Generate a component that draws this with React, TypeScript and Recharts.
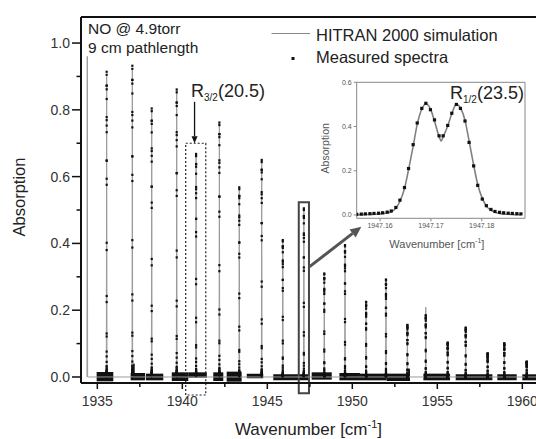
import React from 'react';
import { ComposedChart, Line, Scatter, XAxis, YAxis, ReferenceArea, ReferenceLine } from 'recharts';

const FONT = '"Liberation Sans", Arial, sans-serif';

// ---- main spectrum data ----
const peakWavenumbers = [1935.55, 1937.06, 1938.2, 1939.67, 1940.81, 1942.18, 1943.35, 1944.67, 1945.91, 1947.15, 1948.35, 1949.57, 1950.81, 1951.98, 1953.24, 1954.32, 1955.61, 1956.67, 1957.96, 1958.94, 1960.26];
const measuredPeakHeights = [0.914, 0.932, 0.804, 0.861, 0.668, 0.762, 0.568, 0.65, 0.41, 0.505, 0.31, 0.395, 0.225, 0.292, 0.156, 0.185, 0.103, 0.148, 0.071, 0.101, 0.046];
const simPeakWavenumbers = [1934.41, 1935.55, 1937.06, 1938.2, 1939.67, 1940.81, 1942.18, 1943.35, 1944.67, 1945.91, 1947.15, 1948.35, 1949.57, 1950.81, 1951.98, 1953.24, 1954.32, 1955.61, 1956.67, 1957.96, 1958.94, 1960.26];
const simPeakHeights = [0.96, 0.9, 0.92, 0.8, 0.86, 0.66, 0.76, 0.56, 0.64, 0.41, 0.5, 0.31, 0.39, 0.225, 0.29, 0.156, 0.209, 0.103, 0.148, 0.071, 0.101, 0.046];

// baseline noise segments of the measured spectrum
const noiseStart = [1934.96, 1936.96, 1937.0, 1937.86, 1939.38, 1940.35, 1941.82, 1942.61, 1943.79, 1945.35, 1947.61, 1949.24, 1950.45, 1952.02, 1953.2, 1954.18, 1956.08, 1958.53, 1960.0];
const noiseEnd = [1935.94, 1937.81, 1937.2, 1938.88, 1940.35, 1941.44, 1942.41, 1943.49, 1944.76, 1947.42, 1948.79, 1950.45, 1952.02, 1953.39, 1953.39, 1955.75, 1958.24, 1959.67, 1961.0];
const noiseLow = [-0.013, -0.01, 0, -0.01, -0.012, -0.002, -0.012, -0.014, -0.004, -0.01, -0.008, -0.01, -0.01, -0.012, -0.012, -0.01, -0.01, -0.01, -0.01];
const noiseHigh = [0.015, 0.012, 0.04, 0.01, 0.014, 0.014, 0.014, 0.016, 0.01, 0.008, 0.014, 0.012, 0.01, 0.01, 0.025, 0.01, 0.008, 0.008, 0.008];

const xTicks = [1935, 1937.5, 1940, 1942.5, 1945, 1947.5, 1950, 1952.5, 1955, 1957.5, 1960];
const yTicks = [0, 0.1, 0.2, 0.3, 0.4, 0.5, 0.6, 0.7, 0.8, 0.9, 1.0];
const X_DOMAIN: [number, number] = [1934.04, 1961.04];
const Y_DOMAIN: [number, number] = [-0.018, 1.078];

// ---- inset data: R1/2(23.5) line ----
const insetDotX = [1947.1554, 1947.1563, 1947.1571, 1947.158, 1947.1588, 1947.1597, 1947.1605, 1947.1614, 1947.1622, 1947.1631, 1947.1639, 1947.1648, 1947.1656, 1947.1665, 1947.1673, 1947.1682, 1947.169, 1947.1699, 1947.1707, 1947.1716, 1947.1724, 1947.1733, 1947.1741, 1947.175, 1947.1758, 1947.1767, 1947.1775, 1947.1784, 1947.1792, 1947.1801, 1947.1809, 1947.1818, 1947.1826, 1947.1835, 1947.1843, 1947.1852, 1947.186, 1947.1869, 1947.1877];
const insetDotY = [0.003, 0.004, 0.005, 0.006, 0.007, 0.008, 0.01, 0.013, 0.018, 0.034, 0.067, 0.124, 0.21, 0.318, 0.416, 0.482, 0.505, 0.476, 0.43, 0.358, 0.358, 0.405, 0.46, 0.5, 0.482, 0.425, 0.328, 0.222, 0.134, 0.072, 0.042, 0.025, 0.016, 0.012, 0.01, 0.008, 0.007, 0.006, 0.005];
const insetSimX = [1947.1554, 1947.1563, 1947.1571, 1947.158, 1947.1588, 1947.1597, 1947.1605, 1947.1614, 1947.1622, 1947.1631, 1947.1639, 1947.1648, 1947.1656, 1947.1665, 1947.1673, 1947.1682, 1947.169, 1947.1699, 1947.1707, 1947.1716, 1947.172, 1947.1724, 1947.1733, 1947.1741, 1947.175, 1947.1758, 1947.1767, 1947.1775, 1947.1784, 1947.1792, 1947.1801, 1947.1809, 1947.1818, 1947.1826, 1947.1835, 1947.1843, 1947.1852, 1947.186, 1947.1869, 1947.1877];
const insetSimY = [0.001, 0.001, 0.002, 0.002, 0.003, 0.004, 0.006, 0.009, 0.015, 0.03, 0.062, 0.12, 0.205, 0.31, 0.41, 0.478, 0.503, 0.48, 0.425, 0.355, 0.334, 0.353, 0.402, 0.458, 0.5, 0.484, 0.428, 0.335, 0.226, 0.138, 0.075, 0.04, 0.022, 0.012, 0.007, 0.004, 0.003, 0.002, 0.001, 0.001];
const insetXTicks = [1947.16, 1947.17, 1947.18];
const insetYTicks = [0, 0.2, 0.4, 0.6];
const INSET_X_DOMAIN: [number, number] = [1947.1554, 1947.1885];
const INSET_Y_DOMAIN: [number, number] = [-0.015, 0.6];

// ---- tables built from the arrays ----
const simData: { x: number; y: number }[] = [];
simPeakWavenumbers.forEach((w, i) => {
  simData.push({ x: w - 0.02, y: 0 });
  simData.push({ x: w, y: simPeakHeights[i] });
  simData.push({ x: w + 0.02, y: 0 });
});
simData.push({ x: X_DOMAIN[1], y: 0 });

const profileMax = Math.max(...insetDotY);
const measuredDots = peakWavenumbers.flatMap((w, i) =>
  insetDotY.map((v) => ({ x: w, y: (v / profileMax) * measuredPeakHeights[i] }))
);
const insetDots = insetDotX.map((x, i) => ({ x, y: insetDotY[i] }));
const insetSim = insetSimX.map((x, i) => ({ x, y: insetSimY[i] }));

// ---- renderers ----
const DotShape = (p: any) => <rect x={p.cx - 1.1} y={p.cy - 1.1} width={2.2} height={2.2} fill="#111" />;
const InsetDotShape = (p: any) => <rect x={p.cx - 1.6} y={p.cy - 1.6} width={3.2} height={3.2} fill="#111" />;

const XTick = (p: any) => {
  const v = p.payload.value;
  const major = Math.abs(v % 5) < 1e-6;
  const axisY = p.y - 6;
  return (
    <g>
      <line x1={p.x} x2={p.x} y1={axisY} y2={axisY + (major ? 6 : 4)} stroke="#111" strokeWidth={1.5} />
      {major && (
        <text x={p.x} y={axisY + 23} textAnchor="middle" fontSize={14} fill="#333" fontFamily={FONT}>
          {v}
        </text>
      )}
    </g>
  );
};

const YTick = (p: any) => {
  const v = p.payload.value;
  const major = Math.round(v * 10) % 2 === 0;
  const axisX = p.x + 12;
  return (
    <g>
      <line x1={axisX} x2={axisX - (major ? 9 : 4.5)} y1={p.y} y2={p.y} stroke="#111" strokeWidth={1.5} />
      {major && (
        <text x={p.x + 1} y={p.y + 5} textAnchor="end" fontSize={14} fill="#333" fontFamily={FONT}>
          {v.toFixed(1)}
        </text>
      )}
    </g>
  );
};

const makeArrow = (color: string, width: number, headLen: number, headHalf: number) => (p: any) => {
  const x1 = Number(p.x1), y1 = Number(p.y1), x2 = Number(p.x2), y2 = Number(p.y2);
  const dx = x2 - x1, dy = y2 - y1;
  const len = Math.sqrt(dx * dx + dy * dy) || 1;
  const ux = dx / len, uy = dy / len;
  const bx = x2 - ux * headLen, by = y2 - uy * headLen;
  const pts = `${x2},${y2} ${bx - uy * headHalf},${by + ux * headHalf} ${bx + uy * headHalf},${by - ux * headHalf}`;
  return (
    <g>
      <line x1={x1} y1={y1} x2={bx} y2={by} stroke={color} strokeWidth={width} />
      <polygon points={pts} fill={color} />
    </g>
  );
};

const MainYLabel = (props: any) => {
  const vb = props.viewBox || { x: 0, y: 17, width: 81, height: 366 };
  const cx = vb.x + 19;
  const cy = vb.y + vb.height / 2 - 3;
  return (
    <text x={cx} y={cy} transform={`rotate(-90 ${cx} ${cy})`} textAnchor="middle" dominantBaseline="central" fontSize={16.5} fill="#222" fontFamily={FONT}>
      Absorption
    </text>
  );
};

const MainXLabel = (props: any) => {
  const vb = props.viewBox || { x: 81, y: 383, width: 459, height: 56 };
  const cx = vb.x + vb.width / 2 - 2;
  return (
    <text x={cx} y={vb.y + 52} textAnchor="middle" fontSize={17} fill="#222" fontFamily={FONT}>
      Wavenumber [cm<tspan dy={-7} fontSize={11}>-1</tspan>
      <tspan dy={7}>]</tspan>
    </text>
  );
};

const InsetYLabel = (props: any) => {
  const vb = props.viewBox || { x: 300, y: 82, width: 57, height: 136 };
  const cx = vb.x + 25;
  const cy = vb.y + vb.height / 2 - 2;
  return (
    <text x={cx} y={cy} transform={`rotate(-90 ${cx} ${cy})`} textAnchor="middle" dominantBaseline="central" fontSize={10.5} fill="#555" fontFamily={FONT}>
      Absorption
    </text>
  );
};

const InsetXLabel = (props: any) => {
  const vb = props.viewBox || { x: 357, y: 218, width: 168, height: 42 };
  const cx = vb.x + vb.width / 2 - 4;
  return (
    <text x={cx} y={vb.y + 30} textAnchor="middle" fontSize={11} fill="#555" fontFamily={FONT}>
      Wavenumber [cm<tspan dy={-5} fontSize={7}>-1</tspan>
      <tspan dy={5}>]</tspan>
    </text>
  );
};

export default function App() {
  return (
    <div style={{ position: 'absolute', left: 0, top: 0, width: 536, height: 439, overflow: 'hidden', background: '#fff' }}>
      <div style={{ position: 'absolute', left: 0, top: 0 }}>
        <ComposedChart width={545} height={439} margin={{ top: 17, right: 5, left: 0, bottom: 0 }}>
          <XAxis
            type="number"
            dataKey="x"
            domain={X_DOMAIN}
            ticks={xTicks}
            allowDataOverflow
            height={56}
            tickSize={6}
            tickMargin={0}
            tickLine={false}
            axisLine={{ stroke: '#111', strokeWidth: 2 }}
            tick={<XTick />}
            interval={0}
            label={{ content: MainXLabel } as any}
          />
          <YAxis
            type="number"
            dataKey="y"
            domain={Y_DOMAIN}
            ticks={yTicks}
            allowDataOverflow
            width={81}
            tickSize={9}
            tickMargin={3}
            tickLine={false}
            axisLine={{ stroke: '#111', strokeWidth: 2 }}
            tick={<YTick />}
            interval={0}
            label={{ content: MainYLabel } as any}
          />
          <ReferenceLine y={Y_DOMAIN[1]} stroke="#111" strokeWidth={2} />
          {noiseStart.map((s, i) => (
            <ReferenceArea key={'n' + i} x1={s} x2={noiseEnd[i]} y1={noiseLow[i]} y2={noiseHigh[i]} fill="#111" fillOpacity={1} stroke="none" />
          ))}
          <Line data={simData} dataKey="y" type="linear" stroke="#9a9a9a" strokeWidth={1} dot={false} isAnimationActive={false} />
          <Scatter data={measuredDots} dataKey="y" shape={DotShape} isAnimationActive={false} />
          <ReferenceArea x1={1940.2} x2={1941.38} y1={-0.054} y2={0.7} fill="none" stroke="#222" strokeWidth={1.2} strokeDasharray="2 2" ifOverflow="visible" />
          <ReferenceArea x1={1946.85} x2={1947.45} y1={-0.049} y2={0.523} fill="none" stroke="#444" strokeWidth={2} ifOverflow="visible" />
          <ReferenceLine segment={[{ x: 1940.72, y: 0.824 }, { x: 1940.72, y: 0.7 }]} stroke="#111" shape={makeArrow('#111', 1.3, 7, 3)} ifOverflow="visible" />
          <ReferenceLine segment={[{ x: 1947.45, y: 0.329 }, { x: 1950.53, y: 0.45 }]} stroke="#555" shape={makeArrow('#555', 3, 11, 5)} ifOverflow="visible" />
        </ComposedChart>
      </div>

      <div style={{ position: 'absolute', left: 300, top: 70 }}>
        <ComposedChart width={236} height={190} margin={{ top: 12.3, right: 11, left: 0, bottom: 0 }}>
          <XAxis
            type="number"
            dataKey="x"
            domain={INSET_X_DOMAIN}
            ticks={insetXTicks}
            allowDataOverflow
            height={41.7}
            tickSize={3}
            tickMargin={2}
            tickLine={{ stroke: '#888' }}
            axisLine={{ stroke: '#888' }}
            tick={{ fontSize: 7, fill: '#555', fontFamily: FONT }}
            tickFormatter={(v: number) => v.toFixed(2)}
            interval={0}
            label={{ content: InsetXLabel } as any}
          />
          <YAxis
            type="number"
            dataKey="y"
            domain={INSET_Y_DOMAIN}
            ticks={insetYTicks}
            allowDataOverflow
            width={56.7}
            tickSize={3}
            tickMargin={2}
            tickLine={{ stroke: '#888' }}
            axisLine={{ stroke: '#888' }}
            tick={{ fontSize: 7, fill: '#555', fontFamily: FONT }}
            tickFormatter={(v: number) => v.toFixed(1)}
            interval={0}
            label={{ content: InsetYLabel } as any}
          />
          <ReferenceLine y={INSET_Y_DOMAIN[1]} stroke="#888" />
          <ReferenceLine x={INSET_X_DOMAIN[1]} stroke="#888" />
          <Line data={insetSim} dataKey="y" type="monotone" stroke="#808080" strokeWidth={1.6} dot={false} isAnimationActive={false} />
          <Scatter data={insetDots} dataKey="y" shape={InsetDotShape} isAnimationActive={false} />
        </ComposedChart>
      </div>

      <svg width={536} height={439} style={{ position: 'absolute', left: 0, top: 0, pointerEvents: 'none' }} fontFamily={FONT}>
        <text x={88} y={34} fontSize={15.5} fill="#222">NO @ 4.9torr</text>
        <text x={88} y={52.5} fontSize={15.5} fill="#222">9 cm pathlength</text>
        <line x1={271.5} x2={310} y1={33.5} y2={33.5} stroke="#888" strokeWidth={1.2} />
        <text x={316} y={40.5} fontSize={16.5} fill="#222">HITRAN 2000 simulation</text>
        <rect x={291.5} y={57} width={3} height={3} fill="#111" />
        <text x={316} y={63} fontSize={16.5} fill="#222">Measured spectra</text>
        <text x={191} y={97} fontSize={18} fill="#222">
          R<tspan fontSize={10} dy={4}>3/2</tspan>
          <tspan dy={-4}>(20.5)</tspan>
        </text>
        <text x={450} y={99} fontSize={18} fill="#222">
          R<tspan fontSize={10} dy={4}>1/2</tspan>
          <tspan dy={-4}>(23.5)</tspan>
        </text>
      </svg>
    </div>
  );
}
